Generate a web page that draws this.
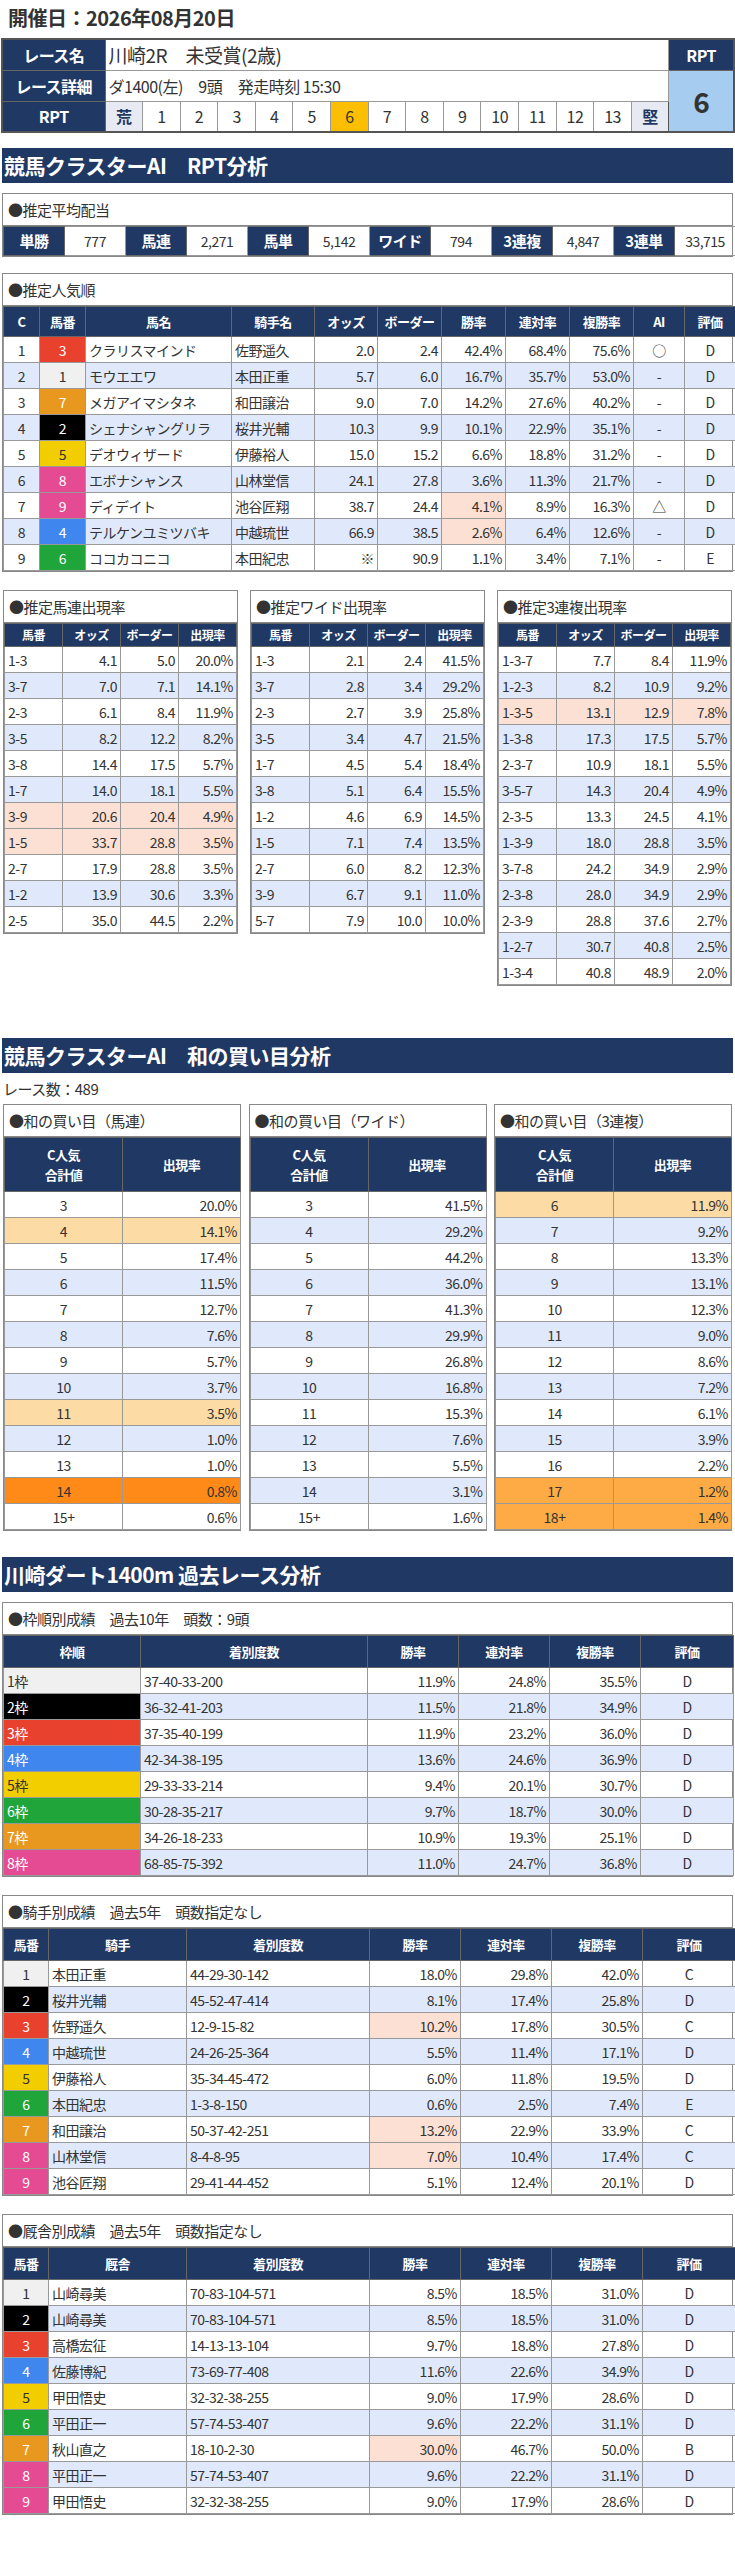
<!DOCTYPE html>
<html><head><meta charset="utf-8">
<script src="https://cdn.jsdelivr.net/npm/chart.js@4"></script>
<style>
body{margin:0;width:735px;background:#fff;font-family:"Noto Sans CJK JP","Noto Sans",sans-serif;color:#333;letter-spacing:-0.5px}
table{border-collapse:collapse;table-layout:fixed}
td,th{border:1px solid #999;padding:0 3px;font-size:14px;line-height:16px;white-space:nowrap;overflow:hidden}
th{background:#1f3864;color:#fff;font-weight:bold;font-size:13px;text-align:center;border-color:#666}
.box{border:1.5px solid #888;margin:0 2px}
.ttl{height:31px;line-height:31px;font-size:15px;padding-left:5px;border-bottom:1.5px solid #888}
.band{background:#1f3864;color:#fff;font-weight:bold;font-size:21px;height:35px;line-height:35px;margin:0 2px;padding-left:2px}
.r{text-align:right}.c{text-align:center}
.alt td{background:#dfe9fb}
</style></head><body>
<div id="page"></div>
<script>
// 推定平均配当
const payLabels=['単勝','馬連','馬単','ワイド','3連複','3連単'];
const payValues=['777','2,271','5,142','794','4,847','33,715'];

// 推定人気順
const popNo=[3,1,7,2,5,8,9,4,6];
const popName=['クラリスマインド','モウエエワ','メガアイマシタネ','シェナシャングリラ','デオウィザード','エボナシャンス','ディデイト','テルケンユミツバキ','ココカコニコ'];
const popJockey=['佐野遥久','本田正重','和田譲治','桜井光輔','伊藤裕人','山林堂信','池谷匠翔','中越琉世','本田紀忠'];
const popOdds=['2.0','5.7','9.0','10.3','15.0','24.1','38.7','66.9','※'];
const popBorder=['2.4','6.0','7.0','9.9','15.2','27.8','24.4','38.5','90.9'];
const popWin=['42.4%','16.7%','14.2%','10.1%','6.6%','3.6%','4.1%','2.6%','1.1%'];
const popRen=['68.4%','35.7%','27.6%','22.9%','18.8%','11.3%','8.9%','6.4%','3.4%'];
const popFuku=['75.6%','53.0%','40.2%','35.1%','31.2%','21.7%','16.3%','12.6%','7.1%'];
const popAI=['○','-','-','-','-','-','△','-','-'];
const popEval=['D','D','D','D','D','D','D','D','E'];

// 推定出現率
const umarenKey=['1-3','3-7','2-3','3-5','3-8','1-7','3-9','1-5','2-7','1-2','2-5'];
const umarenOdds=['4.1','7.0','6.1','8.2','14.4','14.0','20.6','33.7','17.9','13.9','35.0'];
const umarenBorder=['5.0','7.1','8.4','12.2','17.5','18.1','20.4','28.8','28.8','30.6','44.5'];
const umarenRate=['20.0%','14.1%','11.9%','8.2%','5.7%','5.5%','4.9%','3.5%','3.5%','3.3%','2.2%'];
const wideKey=['1-3','3-7','2-3','3-5','1-7','3-8','1-2','1-5','2-7','3-9','5-7'];
const wideOdds=['2.1','2.8','2.7','3.4','4.5','5.1','4.6','7.1','6.0','6.7','7.9'];
const wideBorder=['2.4','3.4','3.9','4.7','5.4','6.4','6.9','7.4','8.2','9.1','10.0'];
const wideRate=['41.5%','29.2%','25.8%','21.5%','18.4%','15.5%','14.5%','13.5%','12.3%','11.0%','10.0%'];
const trioKey=['1-3-7','1-2-3','1-3-5','1-3-8','2-3-7','3-5-7','2-3-5','1-3-9','3-7-8','2-3-8','2-3-9','1-2-7','1-3-4'];
const trioOdds=['7.7','8.2','13.1','17.3','10.9','14.3','13.3','18.0','24.2','28.0','28.8','30.7','40.8'];
const trioBorder=['8.4','10.9','12.9','17.5','18.1','20.4','24.5','28.8','34.9','34.9','37.6','40.8','48.9'];
const trioRate=['11.9%','9.2%','7.8%','5.7%','5.5%','4.9%','4.1%','3.5%','2.9%','2.9%','2.7%','2.5%','2.0%'];

// 和の買い目
const sumUmarenKey=['3','4','5','6','7','8','9','10','11','12','13','14','15+'];
const sumUmarenRate=['20.0%','14.1%','17.4%','11.5%','12.7%','7.6%','5.7%','3.7%','3.5%','1.0%','1.0%','0.8%','0.6%'];
const sumWideKey=['3','4','5','6','7','8','9','10','11','12','13','14','15+'];
const sumWideRate=['41.5%','29.2%','44.2%','36.0%','41.3%','29.9%','26.8%','16.8%','15.3%','7.6%','5.5%','3.1%','1.6%'];
const sumTrioKey=['6','7','8','9','10','11','12','13','14','15','16','17','18+'];
const sumTrioRate=['11.9%','9.2%','13.3%','13.1%','12.3%','9.0%','8.6%','7.2%','6.1%','3.9%','2.2%','1.2%','1.4%'];

// 過去レース分析
const wakuLabel=['1枠','2枠','3枠','4枠','5枠','6枠','7枠','8枠'];
const wakuRecord=['37-40-33-200','36-32-41-203','37-35-40-199','42-34-38-195','29-33-33-214','30-28-35-217','34-26-18-233','68-85-75-392'];
const wakuWin=['11.9%','11.5%','11.9%','13.6%','9.4%','9.7%','10.9%','11.0%'];
const wakuRen=['24.8%','21.8%','23.2%','24.6%','20.1%','18.7%','19.3%','24.7%'];
const wakuFuku=['35.5%','34.9%','36.0%','36.9%','30.7%','30.0%','25.1%','36.8%'];
const wakuEval=['D','D','D','D','D','D','D','D'];

const jkName=['本田正重','桜井光輔','佐野遥久','中越琉世','伊藤裕人','本田紀忠','和田譲治','山林堂信','池谷匠翔'];
const jkRecord=['44-29-30-142','45-52-47-414','12-9-15-82','24-26-25-364','35-34-45-472','1-3-8-150','50-37-42-251','8-4-8-95','29-41-44-452'];
const jkWin=['18.0%','8.1%','10.2%','5.5%','6.0%','0.6%','13.2%','7.0%','5.1%'];
const jkRen=['29.8%','17.4%','17.8%','11.4%','11.8%','2.5%','22.9%','10.4%','12.4%'];
const jkFuku=['42.0%','25.8%','30.5%','17.1%','19.5%','7.4%','33.9%','17.4%','20.1%'];
const jkEval=['C','D','C','D','D','E','C','C','D'];

const stName=['山崎尋美','山崎尋美','高橋宏征','佐藤博紀','甲田悟史','平田正一','秋山直之','平田正一','甲田悟史'];
const stRecord=['70-83-104-571','70-83-104-571','14-13-13-104','73-69-77-408','32-32-38-255','57-74-53-407','18-10-2-30','57-74-53-407','32-32-38-255'];
const stWin=['8.5%','8.5%','9.7%','11.6%','9.0%','9.6%','30.0%','9.6%','9.0%'];
const stRen=['18.5%','18.5%','18.8%','22.6%','17.9%','22.2%','46.7%','22.2%','17.9%'];
const stFuku=['31.0%','31.0%','27.8%','34.9%','28.6%','31.1%','50.0%','31.1%','28.6%'];
const stEval=['D','D','D','D','D','D','B','D','D'];

const frameBg={1:'#f0f0f0',2:'#000',3:'#e8412e',4:'#3f86ef',5:'#f2cd00',6:'#1fa539',7:'#e8971f',8:'#e44b92',9:'#e44b92'};
const frameFg={1:'#333',2:'#fff',3:'#fff',4:'#fff',5:'#333',6:'#fff',7:'#fff',8:'#fff',9:'#fff'};
const PEACH='#fce0d4';
const RH=26;

function head(cols,hgt){return `<tr style="height:${hgt}px">`+cols.map(c=>`<th>${c}</th>`).join('')+'</tr>'}
function colg(w){return '<colgroup>'+w.map(x=>`<col style="width:${x}px">`).join('')+'</colgroup>'}
function row(i,cells){return `<tr class="${i%2?'alt':''}" style="height:${RH}px">`+cells.join('')+'</tr>'}
function td(t,cls='',bg){return `<td class="${cls}"${bg?` style="background:${bg}"`:''}>${t}</td>`}
function box(title,inner,w){return `<div class="box" style="${w?'width:'+w+'px;':''}"><div class="ttl">${title}</div>${inner}</div>`}

let h='';
h+='<div style="font-size:20px;font-weight:bold;padding:3px 0 0 8px;height:35px;line-height:30px">開催日：2026年08月20日</div>';

// race info
let rpt='';
['荒',1,2,3,4,5,6,7,8,9,10,11,12,13,'堅'].forEach(v=>{
  const bg=v===6?'#fcbf00':(typeof v==='string'?'#e7eaf3':'#fff');
  rpt+=`<td class="c" style="background:${bg};font-size:16px;${typeof v==='string'?'color:#1f3864;font-weight:bold':''}">${v}</td>`;
});
h+=`<table style="width:733px;margin:0 1px;border:2px solid #555">${colg([103].concat(Array(15).fill(37.6)).concat([65]))}
<tr style="height:31px"><th style="font-size:16px">レース名</th><td colspan="15" style="font-size:19px">川崎2R　未受賞(2歳)</td><th style="font-size:16px">RPT</th></tr>
<tr style="height:31px"><th style="font-size:16px">レース詳細</th><td colspan="15" style="font-size:16px">ダ1400(左)　9頭　発走時刻 15:30</td><td rowspan="2" class="c" style="background:#a6cdf0;font-size:28px;font-weight:bold;border-color:#555">6</td></tr>
<tr style="height:31px"><th style="font-size:16px">RPT</th>${rpt}</tr></table>`;

h+='<div style="height:15px"></div><div class="band">競馬クラスターAI　RPT分析</div><div style="height:10px"></div>';

// payout
let pr='<table style="width:100%">'+colg(Array(12).fill(61))+'<tr style="height:29px">';
payLabels.forEach((l,i)=>{pr+=`<th style="font-size:15px">${l}</th>`+td(payValues[i],'c');});
pr+='</tr></table>';
h+=box('●推定平均配当',pr);
h+='<div style="height:16px"></div>';

// popularity
let pt='<table style="width:100%">'+colg([36,46,146,83,63,64,64,64,64,51,51]);
pt+=head(['C','馬番','馬名','騎手名','オッズ','ボーダー','勝率','連対率','複勝率','AI','評価'],30);
popNo.forEach((n,i)=>{
  pt+=row(i,[td(i+1,'c'),`<td class="c" style="background:${frameBg[n]};color:${frameFg[n]}">${n}</td>`,td(popName[i]),td(popJockey[i]),td(popOdds[i],'r'),td(popBorder[i],'r'),
    td(popWin[i],'r',(i==6||i==7)?PEACH:null),td(popRen[i],'r'),td(popFuku[i],'r'),td(popAI[i],'c'),td(popEval[i],'c')]);
});
pt+='</table>';
h+=box('●推定人気順',pt);
h+='<div style="height:18px"></div>';

function rateTable(title,key,odds,border,rate,hi){
  let t='<table style="width:100%">'+colg([58,58,58,58]);
  t+=head(['馬番','オッズ','ボーダー','出現率'],23).replace(/<th>/g,'<th style="font-size:12px">');
  key.forEach((k,i)=>{const bg=hi.includes(i)?PEACH:null;
    t+=row(i,[td(k,'',bg),td(odds[i],'r',bg),td(border[i],'r',bg),td(rate[i],'r',bg)]);});
  return box(title,t+'</table>',233);
}
h+='<div style="display:flex;justify-content:space-between;align-items:flex-start;margin:0 1px">'+
  rateTable('●推定馬連出現率',umarenKey,umarenOdds,umarenBorder,umarenRate,[6,7])+
  rateTable('●推定ワイド出現率',wideKey,wideOdds,wideBorder,wideRate,[])+
  rateTable('●推定3連複出現率',trioKey,trioOdds,trioBorder,trioRate,[2])+'</div>';

h+='<div style="height:52px"></div><div class="band">競馬クラスターAI　和の買い目分析</div>';
h+='<div style="font-size:15px;padding:4px 3px;height:23px;line-height:23px">レース数：489</div>';

function sumTable(title,key,rate,hi){
  let t='<table style="width:100%">'+colg([118,118]);
  t+='<tr style="height:54px"><th style="line-height:20px">C人気<br>合計値</th><th>出現率</th></tr>';
  key.forEach((k,i)=>{const bg=hi[i]||null;
    t+=row(i,[td(k,'c',bg),td(rate[i],'r',bg)]);});
  return box(title,t+'</table>',236);
}
h+='<div style="display:flex;justify-content:space-between;align-items:flex-start;margin:0 1px">'+
  sumTable('●和の買い目（馬連）',sumUmarenKey,sumUmarenRate,{1:'#fddba5',8:'#fddba5',11:'#ff8a17'})+
  sumTable('●和の買い目（ワイド）',sumWideKey,sumWideRate,{})+
  sumTable('●和の買い目（3連複）',sumTrioKey,sumTrioRate,{0:'#fddba5',11:'#ffab45',12:'#ffab45'})+'</div>';

h+='<div style="height:26px"></div><div class="band">川崎ダート1400m 過去レース分析</div><div style="height:10px"></div>';

let wt='<table style="width:100%">'+colg([137,227,91,91,91,93]);
wt+=head(['枠順','着別度数','勝率','連対率','複勝率','評価'],32);
wakuLabel.forEach((l,i)=>{const n=i+1;
  wt+=row(i,[`<td style="background:${frameBg[n]};color:${frameFg[n]}">${l}</td>`,td(wakuRecord[i]),td(wakuWin[i],'r'),td(wakuRen[i],'r'),td(wakuFuku[i],'r'),td(wakuEval[i],'c')]);});
h+=box('●枠順別成績　過去10年　頭数：9頭',wt+'</table>');
h+='<div style="height:18px"></div>';

function personTable(title,label,names,rec,win,ren,fuku,ev,hiWin){
  let t='<table style="width:100%">'+colg([45,138,183,91,91,91,93]);
  t+=head(['馬番',label,'着別度数','勝率','連対率','複勝率','評価'],32);
  names.forEach((nm,i)=>{const n=i+1;
    t+=row(i,[`<td class="c" style="background:${frameBg[n]};color:${frameFg[n]}">${n}</td>`,td(nm),td(rec[i]),td(win[i],'r',hiWin.includes(i)?PEACH:null),td(ren[i],'r'),td(fuku[i],'r'),td(ev[i],'c')]);});
  return box(title,t+'</table>');
}
h+=personTable('●騎手別成績　過去5年　頭数指定なし','騎手',jkName,jkRecord,jkWin,jkRen,jkFuku,jkEval,[2,6,7]);
h+='<div style="height:18px"></div>';
h+=personTable('●厩舎別成績　過去5年　頭数指定なし','厩舎',stName,stRecord,stWin,stRen,stFuku,stEval,[6]);

document.getElementById('page').innerHTML=h;
</script>
</body></html>
